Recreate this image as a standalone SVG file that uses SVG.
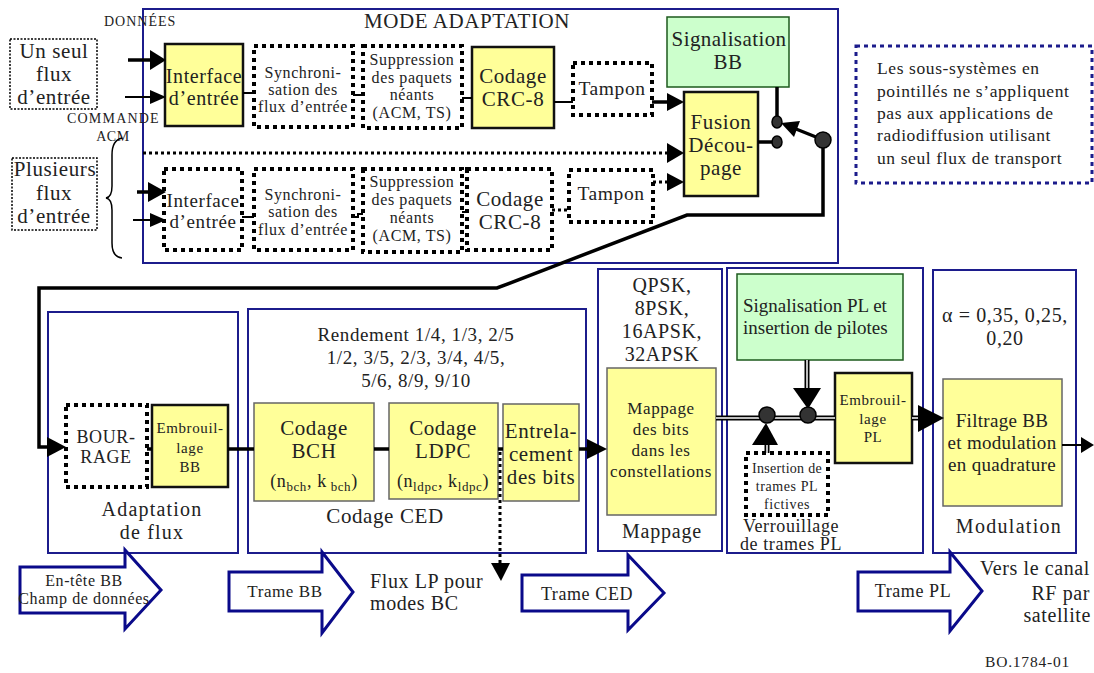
<svg xmlns="http://www.w3.org/2000/svg" width="1094" height="673" viewBox="0 0 1094 673">
<style>
text{font-family:"Liberation Serif","Times New Roman",serif;fill:#222;letter-spacing:0.6px}
.c{text-anchor:middle}
.blue{fill:none;stroke:#1c1c8c;stroke-width:2}
.y{fill:#ffff99;stroke:#111;stroke-width:2.5}
.yg{fill:#ffff99;stroke:#666;stroke-width:1.5}
.g{fill:#ccffcc;stroke:#1d5a1d;stroke-width:1.5}
.d{fill:#fff;stroke:#000;stroke-width:4;stroke-dasharray:4 4}
.dn{fill:#fff;stroke:#1c1c8c;stroke-width:3;stroke-dasharray:4 4}
.src{fill:#fff;stroke:#000;stroke-width:1.5;stroke-dasharray:2 1.5}
.ln{fill:none;stroke:#000;stroke-width:3.5}
.thin{fill:none;stroke:#000;stroke-width:2}
.dot{fill:none;stroke:#000;stroke-width:3;stroke-dasharray:3 3}
.dbo{fill:none;stroke:#000;stroke-width:5}
.dbi{fill:none;stroke:#fff;stroke-width:1.5}
.ah{fill:#000}
.bar{fill:#fff;stroke:#0a0a8a;stroke-width:3;stroke-linejoin:miter}
.knob{fill:#333;stroke:#000;stroke-width:1.5}
</style>

<!-- container frames -->
<g id="mode-adaptation">
<rect class="blue" x="143" y="9" width="695" height="254"/>
<text class="c" x="467" y="28" font-size="21">MODE ADAPTATION</text>
</g>

<g id="labels-left">
<text x="104" y="26" font-size="14" style="letter-spacing:1px">DONNÉES</text>
<text x="67" y="123" font-size="14" style="letter-spacing:1.2px">COMMANDE</text>
<text class="c" x="113" y="141" font-size="14">ACM</text>
<path d="M122,138 Q112,140 112,155 L112,186 Q112,197 106,198 Q112,199 112,210 L112,243 Q112,257 122,258" fill="none" stroke="#000" stroke-width="1.5"/>
</g>

<g id="src-single">
<rect class="src" x="10" y="39" width="87" height="70"/>
<text class="c" x="54" y="58" font-size="21">Un seul</text>
<text class="c" x="54" y="81" font-size="21">flux</text>
<text class="c" x="54" y="104" font-size="21">d’entrée</text>
</g>
<g id="src-multi">
<rect class="src" x="12" y="158" width="85" height="72"/>
<text class="c" x="55" y="176" font-size="21">Plusieurs</text>
<text class="c" x="54" y="200" font-size="21">flux</text>
<text class="c" x="54" y="223" font-size="21">d’entrée</text>
</g>

<!-- upper row -->
<g id="iface1">
<rect class="y" x="165" y="44" width="78" height="82"/>
<text class="c" x="204" y="83" font-size="20">Interface</text>
<text class="c" x="204" y="105" font-size="20">d’entrée</text>
</g>
<g id="sync1">
<rect class="d" x="254" y="46" width="99" height="81"/>
<text class="c" x="303" y="78" font-size="16">Synchroni-</text>
<text class="c" x="303" y="95" font-size="16">sation des</text>
<text class="c" x="303" y="112" font-size="16">flux d’entrée</text>
</g>
<g id="supp1">
<rect class="d" x="363" y="46" width="99" height="82"/>
<text class="c" x="412" y="65" font-size="16">Suppression</text>
<text class="c" x="412" y="83" font-size="16">des paquets</text>
<text class="c" x="412" y="100" font-size="16">néants</text>
<text class="c" x="412" y="118" font-size="16">(ACM, TS)</text>
</g>
<g id="crc1">
<rect class="y" x="472" y="47" width="82" height="81"/>
<text class="c" x="513" y="83" font-size="21">Codage</text>
<text class="c" x="513" y="106" font-size="21">CRC-8</text>
</g>
<g id="buf1">
<rect class="d" x="573" y="63" width="79" height="52"/>
<text class="c" x="612" y="95" font-size="19.5">Tampon</text>
</g>

<!-- lower row -->
<g id="iface2">
<rect class="d" x="164" y="169" width="78" height="81"/>
<text class="c" x="203" y="207" font-size="19">Interface</text>
<text class="c" x="203" y="228" font-size="19">d’entrée</text>
</g>
<g id="sync2">
<rect class="d" x="254" y="169" width="99" height="81"/>
<text class="c" x="303" y="200" font-size="16">Synchroni-</text>
<text class="c" x="303" y="217" font-size="16">sation des</text>
<text class="c" x="303" y="235" font-size="16">flux d’entrée</text>
</g>
<g id="supp2">
<rect class="d" x="363" y="169" width="99" height="83"/>
<text class="c" x="412" y="187" font-size="16">Suppression</text>
<text class="c" x="412" y="205" font-size="16">des paquets</text>
<text class="c" x="412" y="223" font-size="16">néants</text>
<text class="c" x="412" y="241" font-size="16">(ACM, TS)</text>
</g>
<g id="crc2">
<rect class="d" x="467" y="169" width="85" height="81"/>
<text class="c" x="510" y="206" font-size="21">Codage</text>
<text class="c" x="510" y="229" font-size="21">CRC-8</text>
</g>
<g id="buf2">
<rect class="d" x="569" y="170" width="84" height="52"/>
<text class="c" x="611" y="200" font-size="19.5">Tampon</text>
</g>

<g id="sigbb">
<rect class="g" x="667" y="17" width="122" height="70"/>
<text class="c" x="729" y="46" font-size="21" style="letter-spacing:0.4px">Signalisation</text>
<text class="c" x="728" y="69" font-size="21">BB</text>
</g>
<g id="fusion">
<rect class="y" x="684" y="92" width="74" height="104"/>
<text class="c" x="721" y="129" font-size="21">Fusion</text>
<text class="c" x="721" y="152" font-size="21">Décou-</text>
<text class="c" x="721" y="175" font-size="21">page</text>
</g>

<g id="note">
<rect class="dn" x="856" y="46" width="236" height="137"/>
<text x="877" y="74" font-size="17.5">Les sous-systèmes en</text>
<text x="877" y="97" font-size="17.5">pointillés ne s’appliquent</text>
<text x="877" y="119" font-size="17.5">pas aux applications de</text>
<text x="877" y="141" font-size="17.5">radiodiffusion utilisant</text>
<text x="877" y="164" font-size="17.5">un seul flux de transport</text>
</g>

<!-- bottom row -->
<g id="stream-adapt">
<rect class="blue" x="48" y="312" width="190" height="241"/>
<text class="c" x="152" y="516" font-size="20" style="letter-spacing:1.2px">Adaptation</text>
<text class="c" x="152" y="539" font-size="20" style="letter-spacing:1.2px">de flux</text>
</g>
<g id="padding">
<rect class="d" x="66" y="405" width="81" height="82"/>
<text class="c" x="106" y="443" font-size="18">BOUR-</text>
<text class="c" x="106" y="463" font-size="18">RAGE</text>
</g>
<g id="bbscr">
<rect class="y" x="152" y="405" width="76" height="82"/>
<text class="c" x="190" y="433" font-size="15">Embrouil-</text>
<text class="c" x="190" y="453" font-size="15">lage</text>
<text class="c" x="190" y="472" font-size="15">BB</text>
</g>

<g id="fec">
<rect class="blue" x="248" y="309" width="338" height="244"/>
<text class="c" x="416" y="341" font-size="19">Rendement 1/4, 1/3, 2/5</text>
<text class="c" x="416" y="364" font-size="19">1/2, 3/5, 2/3, 3/4, 4/5,</text>
<text class="c" x="416" y="387" font-size="19">5/6, 8/9, 9/10</text>
<text class="c" x="385" y="523" font-size="21">Codage CED</text>
</g>
<g id="bch">
<rect class="yg" x="254" y="403" width="120" height="98"/>
<text class="c" x="314" y="435" font-size="21">Codage</text>
<text class="c" x="314" y="458" font-size="21">BCH</text>
<text class="c" x="314" y="487" font-size="18">(n<tspan font-size="13" dy="4">bch</tspan><tspan dy="-4">, k</tspan><tspan font-size="13" dy="4"> bch</tspan><tspan dy="-4">)</tspan></text>
</g>
<g id="ldpc">
<rect class="yg" x="389" y="403" width="109" height="96"/>
<text class="c" x="443" y="435" font-size="21">Codage</text>
<text class="c" x="443" y="458" font-size="21">LDPC</text>
<text class="c" x="443" y="487" font-size="18">(n<tspan font-size="13" dy="4">ldpc</tspan><tspan dy="-4">, k</tspan><tspan font-size="13" dy="4">ldpc</tspan><tspan dy="-4">)</tspan></text>
</g>
<g id="interleave">
<rect class="yg" x="503" y="404" width="76" height="97"/>
<text class="c" x="541" y="438" font-size="21">Entrela-</text>
<text class="c" x="541" y="461" font-size="21">cement</text>
<text class="c" x="541" y="484" font-size="21">des bits</text>
</g>

<g id="mapping">
<rect class="blue" x="598" y="269" width="124" height="282"/>
<text class="c" x="662" y="292" font-size="20">QPSK,</text>
<text class="c" x="662" y="315" font-size="20">8PSK,</text>
<text class="c" x="662" y="338" font-size="20">16APSK,</text>
<text class="c" x="662" y="361" font-size="20">32APSK</text>
<text class="c" x="662" y="538" font-size="20" style="letter-spacing:0.8px">Mappage</text>
</g>
<g id="mapper">
<rect class="yg" x="607" y="368" width="109" height="147"/>
<text class="c" x="661" y="414" font-size="17">Mappage</text>
<text class="c" x="661" y="435" font-size="17">des bits</text>
<text class="c" x="661" y="456" font-size="17">dans les</text>
<text class="c" x="661" y="477" font-size="17">constellations</text>
</g>

<g id="plframing">
<rect class="blue" x="727" y="268" width="196" height="285"/>
<text class="c" x="791" y="532" font-size="18">Verrouillage</text>
<text class="c" x="791" y="550" font-size="18">de trames PL</text>
</g>
<g id="plsig">
<rect class="g" x="737" y="274" width="166" height="86"/>
<text x="743" y="312" font-size="19" style="letter-spacing:0">Signalisation PL et</text>
<text x="743" y="334" font-size="19" style="letter-spacing:0">insertion de pilotes</text>
</g>
<g id="dummy">
<rect class="d" x="746" y="453" width="82" height="62"/>
<text class="c" x="787" y="473" font-size="14" style="letter-spacing:0.3px">Insertion de</text>
<text class="c" x="787" y="491" font-size="14">trames PL</text>
<text class="c" x="787" y="509" font-size="14">fictives</text>
</g>
<g id="plscr">
<rect class="y" x="835" y="373" width="77" height="90"/>
<text class="c" x="873" y="405" font-size="15">Embrouil-</text>
<text class="c" x="873" y="424" font-size="15">lage</text>
<text class="c" x="873" y="442" font-size="15">PL</text>
</g>

<g id="modulation">
<rect class="blue" x="933" y="270" width="143" height="283"/>
<text class="c" x="1005" y="322" font-size="20">α = 0,35, 0,25,</text>
<text class="c" x="1005" y="345" font-size="20">0,20</text>
<text class="c" x="1009" y="533" font-size="20" style="letter-spacing:1.3px">Modulation</text>
</g>
<g id="filter">
<rect class="yg" x="943" y="379" width="119" height="127"/>
<text class="c" x="1002" y="427" font-size="19" style="letter-spacing:0.3px">Filtrage BB</text>
<text class="c" x="1002" y="449" font-size="19" style="letter-spacing:0.3px">et modulation</text>
<text class="c" x="1002" y="471" font-size="19" style="letter-spacing:0.3px">en quadrature</text>
</g>

<!-- block arrows -->
<g id="arrow-bbheader">
<polygon class="bar" points="20,567 125,567 125,550 161,590 125,629 125,613 20,613"/>
<text class="c" x="84" y="586" font-size="16">En-tête BB</text>
<text class="c" x="84" y="604" font-size="16">Champ de données</text>
</g>
<g id="arrow-bbframe">
<polygon class="bar" points="229,572 322,572 322,552 353,592 322,633 322,611 229,611"/>
<text class="c" x="285" y="597" font-size="17">Trame BB</text>
</g>
<g id="arrow-fecframe">
<polygon class="bar" points="522,575 628,575 628,555 664,593 628,630 628,611 522,611"/>
<text class="c" x="587" y="600" font-size="18">Trame CED</text>
</g>
<g id="arrow-plframe">
<polygon class="bar" points="858,572 950,572 950,552 982,591 950,631 950,611 858,611"/>
<text class="c" x="913" y="597" font-size="18">Trame PL</text>
</g>

<g id="free-labels">
<text x="370" y="588" font-size="20">Flux LP pour</text>
<text x="370" y="610" font-size="20">modes BC</text>
<text x="1090" y="575" font-size="20" text-anchor="end">Vers le canal</text>
<text x="1090" y="600" font-size="20" text-anchor="end">RF par</text>
<text x="1091" y="622" font-size="20" text-anchor="end">satellite</text>
<text x="985" y="667" font-size="15.5" style="letter-spacing:0.8px">BO.1784-01</text>
</g>

<!-- connectors -->
<g id="connectors">
<!-- inputs -->
<line class="ln" x1="128" y1="60" x2="151" y2="60" stroke-width="5"/>
<polygon class="ah" points="150,50 166,60 150,70"/>
<line class="thin" x1="125" y1="97" x2="151" y2="97"/>
<polygon class="ah" points="150,90 166,97 150,104"/>
<line class="ln" x1="137" y1="192" x2="150" y2="192" stroke-width="4"/>
<polygon class="ah" points="148,182 166,192 148,202"/>
<line class="thin" x1="133" y1="220" x2="151" y2="220"/>
<polygon class="ah" points="150,213 166,220 150,227"/>
<!-- upper chain -->
<line class="thin" x1="243" y1="93" x2="254" y2="93"/>
<line class="thin" x1="353" y1="95" x2="363" y2="95"/>
<line class="thin" x1="462" y1="98" x2="472" y2="98"/>
<line class="thin" x1="554" y1="102" x2="573" y2="102"/>
<line class="ln" x1="652" y1="102" x2="669" y2="102" stroke-width="4"/>
<polygon class="ah" points="667,93 684,102 667,111"/>
<!-- divider -->
<line class="dot" x1="143" y1="153" x2="668" y2="153"/>
<polygon class="ah" points="667,143 684,153 667,163"/>
<!-- lower chain -->
<line class="thin" x1="242" y1="217" x2="254" y2="217"/>
<polyline class="thin" points="353,217 358,217 358,214 363,214"/>
<line class="thin" x1="462" y1="212" x2="467" y2="212"/>
<line class="dot" x1="552" y1="210" x2="569" y2="210"/>
<line class="dot" x1="653" y1="182" x2="668" y2="182"/>
<polygon class="ah" points="667,173 684,182 667,191"/>
<!-- switch -->
<line class="ln" x1="777" y1="87" x2="777" y2="117" stroke-width="3"/>
<ellipse class="knob" cx="777" cy="122" rx="5" ry="6"/>
<line class="ln" x1="758" y1="142" x2="773" y2="142" stroke-width="4"/>
<ellipse class="knob" cx="777" cy="142" rx="5" ry="6"/>
<line class="ln" x1="816" y1="137" x2="796" y2="129" stroke-width="3.5"/>
<polygon class="ah" points="781,123 800,121 794,137"/>
<circle class="knob" cx="823" cy="140" r="8"/>
<polyline class="ln" points="823,148 823,215 687,215 497,288 39,288 39,447 50,447" stroke-width="3"/>
<polygon class="ah" points="47,437 66,447 47,457"/>
<!-- bottom chain -->
<line class="ln" x1="147" y1="449" x2="152" y2="449"/>
<line class="ln" x1="228" y1="449" x2="254" y2="449"/>
<line class="ln" x1="374" y1="449" x2="389" y2="449"/>
<line class="ln" x1="498" y1="449" x2="503" y2="449"/>
<line class="ln" x1="579" y1="449" x2="590" y2="449"/>
<polygon class="ah" points="587,439 607,449 587,459"/>
<line class="dot" x1="500" y1="452" x2="500" y2="564"/>
<polygon class="ah" points="491,563 510,563 501,581"/>
<!-- PL double lines -->
<line class="dbo" x1="716" y1="418" x2="835" y2="418"/>
<line class="dbi" x1="716" y1="418" x2="835" y2="418"/>
<line class="dbo" x1="807" y1="360" x2="807" y2="390"/>
<line class="dbi" x1="807" y1="360" x2="807" y2="390"/>
<polygon class="ah" points="793,388 821,388 808,409"/>
<line class="dbo" x1="767" y1="443" x2="767" y2="453"/>
<line class="dbi" x1="767" y1="443" x2="767" y2="453"/>
<polygon class="ah" points="752,445 778,445 766,423"/>
<circle class="knob" cx="767" cy="415" r="8"/>
<circle class="knob" cx="808" cy="415" r="8"/>
<line class="dbo" x1="912" y1="418" x2="920" y2="418"/>
<line class="dbi" x1="912" y1="418" x2="920" y2="418"/>
<polygon class="ah" points="918,405 944,418 918,432"/>
<line class="thin" x1="1062" y1="445" x2="1082" y2="445" stroke-width="1.5"/>
<polygon class="ah" points="1081,437 1094,445 1081,453"/>
</g>
</svg>
